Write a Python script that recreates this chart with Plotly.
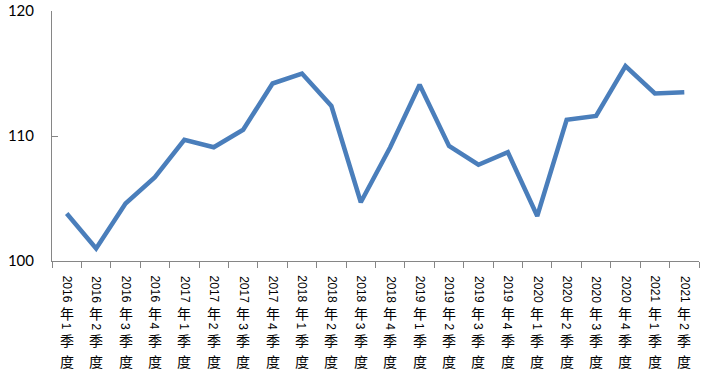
import re
import plotly.graph_objects as go

categories = ["2016年1季度", "2016年2季度", "2016年3季度", "2016年4季度",
              "2017年1季度", "2017年2季度", "2017年3季度", "2017年4季度",
              "2018年1季度", "2018年2季度", "2018年3季度", "2018年4季度",
              "2019年1季度", "2019年2季度", "2019年3季度", "2019年4季度",
              "2020年1季度", "2020年2季度", "2020年3季度", "2020年4季度",
              "2021年1季度", "2021年2季度"]
values = [103.8, 101.0, 104.6, 106.7, 109.7, 109.1, 110.5, 114.2, 115.0, 112.4,
          104.7, 109.1, 114.1, 109.2, 107.7, 108.7, 103.6, 111.3, 111.6, 115.6,
          113.4, 113.5]
y_ticks = [100, 110, 120]

W, H = 715, 390
M_L, M_R, M_T, M_B = 52, 16, 11, 128.5
plot_bottom = H - M_B

fig = go.Figure()
fig.add_trace(go.Scatter(
    x=categories, y=values, mode="lines",
    line=dict(color="#4a7ebb", width=4.5),
    hoverinfo="x+y", showlegend=False,
))

# vertical (stacked) category labels: digits rotated, CJK upright
DIGIT_STEP = 6.67
CJK_STEP = 20.5
START = 276.5
annotations = []
for cat in categories:
    cursor = START
    for seg in re.findall(r"\d+|\D", cat):
        if seg.isdigit():
            length = DIGIT_STEP * len(seg)
            angle = 90
            fnt = dict(family="Liberation Sans", size=12, color="#000000")
        else:
            length = CJK_STEP
            angle = 0
            fnt = dict(family="Noto Sans CJK SC", size=14, color="#000000")
        center = cursor + length / 2
        annotations.append(dict(
            x=cat, xref="x", y=0, yref="paper",
            text=seg, textangle=angle, showarrow=False,
            xanchor="center", yanchor="middle", borderpad=0,
            yshift=plot_bottom - center,
            font=fnt,
        ))
        cursor += length

fig.update_layout(
    width=W, height=H,
    margin=dict(l=M_L, r=M_R, t=M_T, b=M_B, autoexpand=False),
    paper_bgcolor="white", plot_bgcolor="white",
    annotations=annotations,
    xaxis=dict(
        type="category", range=[-0.5, len(categories) - 0.5],
        showgrid=False, zeroline=False, automargin=False,
        showline=True, linecolor="#868686", linewidth=1,
        ticks="outside", ticklen=6, tickcolor="#868686", tickwidth=1,
        tickson="boundaries", showticklabels=False,
    ),
    yaxis=dict(
        range=[100, 120], tickvals=y_ticks, automargin=False,
        showgrid=False, zeroline=False,
        showline=True, linecolor="#868686", linewidth=1,
        ticks="inside", ticklen=6, tickcolor="#868686", tickwidth=1,
        ticklabelstandoff=14,
        tickfont=dict(family="Lato", size=15, color="#000000"),
    ),
)

fig.write_html("out.html", config={"displayModeBar": False},
               post_script="document.body.style.margin='0';")
